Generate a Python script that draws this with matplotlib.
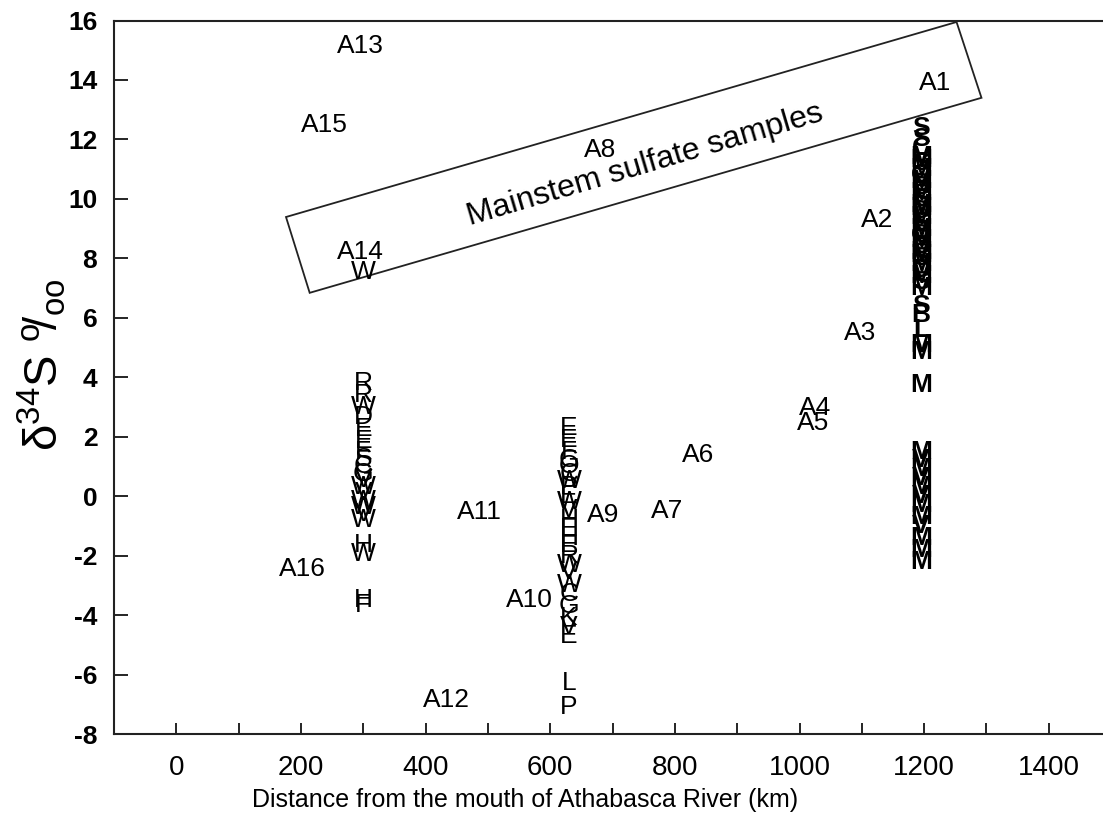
import matplotlib.pyplot as plt
from matplotlib.patches import Polygon

plt.rcParams['font.family'] = ['Liberation Sans', 'DejaVu Sans']
plt.rcParams['mathtext.default'] = 'regular'
plt.rcParams['axes.unicode_minus'] = False

# mainstem samples A1..A16: distance (km), delta34S (per mil)
main_lab = ['A1', 'A2', 'A3', 'A4', 'A5', 'A6', 'A7', 'A8',
            'A9', 'A10', 'A11', 'A12', 'A13', 'A14', 'A15', 'A16']
main_x = [1218, 1124, 1097, 1025, 1021, 837, 787, 680,
          685, 567, 486, 434, 296, 296, 237, 203]
main_y = [13.9, 9.3, 5.5, 2.97, 2.47, 1.4, -0.49, 11.65,
          -0.62, -3.48, -0.53, -6.84, 15.14, 8.22, 12.49, -2.44]

# tributary samples near km 300
col1_x = 300
col1_lab = ['W', 'R', 'R', 'W', 'D', 'E', 'E', 'F', 'S', 'C', 'G', 'V',
            'W', 'V', 'W', 'W', 'V', 'W', 'H', 'W', 'H', 'F']
col1_y = [7.55, 3.8, 3.4, 3.0, 2.65, 2.25, 1.85, 1.5, 1.25, 1.0, 0.75, 0.55,
          0.3, 0.1, -0.15, -0.35, -0.6, -0.8, -1.65, -1.95, -3.5, -3.65]

# tributary samples near km 630
col2_x = 630
col2_lab = ['E', 'E', 'F', 'G', 'O', 'C', 'W', 'P', 'E', 'W', 'V', 'H', 'E',
            'H', 'E', 'R', 'W', 'V', 'W', 'C', 'G', 'K', 'V', 'E', 'L', 'P']
col2_y = [2.3, 1.9, 1.5, 1.2, 1.0, 0.75, 0.5, 0.3, 0.0, -0.2, -0.45, -0.8, -1.1,
          -1.4, -1.65, -2.0, -2.3, -2.55, -3.0, -3.3, -3.7, -4.1, -4.4, -4.7, -6.3, -7.1]

# tributary samples near km 1195
col3_x = 1195
col3_lab = ['S', 'S', 'C', 'M', 'S', 'M', 'O', 'M', 'B', 'M', 'S', 'M', 'D',
            'M', 'S', 'M', 'O', 'M', 'B', 'M', 'S', 'M', 'D', 'M', 'S', 'M',
            'M', 'B', 'M', 'B', 'M',
            'S', 'B', 'L', 'M', 'M', 'M',
            'M', 'V', 'M', 'V', 'M', 'V', 'M', 'M', 'V', 'M', 'M', 'M']
col3_y = [12.4, 12.0, 11.7, 11.4, 11.2, 11.0, 10.8, 10.6, 10.4, 10.2, 10.0, 9.8, 9.6,
          9.4, 9.2, 9.0, 8.8, 8.6, 8.4, 8.2, 8.0, 7.8, 7.6, 7.4, 7.2, 7.0,
          11.3, 10.5, 9.7, 8.9, 8.1,
          6.4, 6.1, 5.6, 5.1, 4.85, 3.75,
          1.5, 1.2, 0.9, 0.6, 0.3, 0.0, -0.3, -0.7, -1.0, -1.4, -1.8, -2.2]

# outline round the mainstem samples
box_x = [176, 214, 1292, 1252]
box_y = [9.39, 6.84, 13.4, 15.95]

fig = plt.figure(figsize=(11.03, 8.19), dpi=100)
ax = fig.add_axes([114 / 1103, 85 / 819, 989 / 1103, 713.5 / 819])

for lab, x, y in zip(main_lab, main_x, main_y):
    ax.text(x, y, lab, ha='center', va='center', fontsize=19)
for lab, y in zip(col1_lab, col1_y):
    ax.text(col1_x, y, lab, ha='center', va='center', fontsize=19)
for lab, y in zip(col2_lab, col2_y):
    ax.text(col2_x, y, lab, ha='center', va='center', fontsize=19)
for lab, y in zip(col3_lab, col3_y):
    ax.text(col3_x, y, lab, ha='center', va='center', fontsize=19,
            fontweight='bold')

ax.add_patch(Polygon(list(zip(box_x, box_y)), closed=True, fill=False,
                     edgecolor='#222222', linewidth=1.3))
ax.text(752, 11.14, 'Mainstem sulfate samples', rotation=16.5,
        rotation_mode='anchor', ha='center', va='center', fontsize=23)

ax.set_xlim(-100, 1487)
ax.set_ylim(-8, 16)
ax.set_xticks(range(0, 1401, 200))
ax.set_xticks(range(0, 1401, 100), minor=True)
ax.set_yticks(range(-8, 17, 2))
ax.tick_params(axis='x', which='both', direction='in', length=8, width=1.2,
               pad=15, labelsize=20)
ax.tick_params(axis='y', direction='in', length=10, width=1.2, pad=12,
               labelsize=19)
for t in ax.get_yticklabels():
    t.set_fontweight('bold')
ax.spines['right'].set_visible(False)
for s in ['left', 'bottom', 'top']:
    ax.spines[s].set_linewidth(1.5)
    ax.spines[s].set_color('#222222')

fig.text(525 / 1103, 1 - 800 / 819,
         'Distance from the mouth of Athabasca River (km)',
         ha='center', va='center', fontsize=18)
fig.text(42 / 1103, 1 - 365 / 819, r'δ$^{34}$S $^{o}\!/_{oo}$',
         rotation=90, ha='center', va='center', fontsize=34)

fig.savefig('out.png', dpi=100)
